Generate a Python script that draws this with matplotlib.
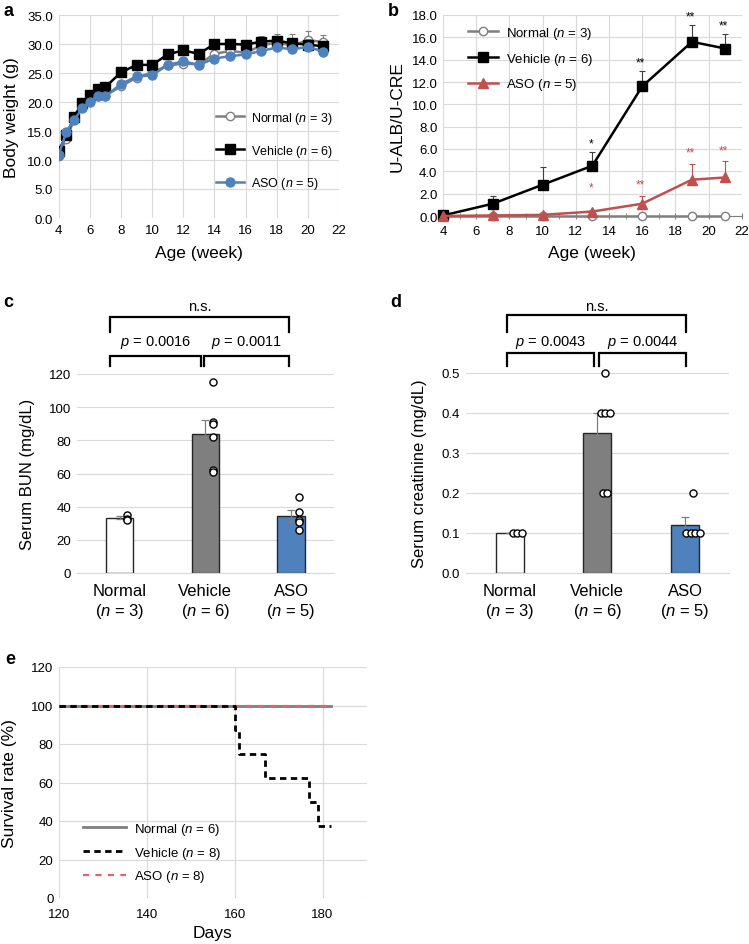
import numpy as np
import matplotlib
matplotlib.use('Agg')
from matplotlib import pyplot as plt
from matplotlib.ticker import FormatStrFormatter, MultipleLocator

plt.rcParams['font.family'] = ['Liberation Sans', 'DejaVu Sans']
plt.rcParams['mathtext.fontset'] = 'custom'
plt.rcParams['mathtext.rm'] = 'Liberation Sans'
plt.rcParams['mathtext.it'] = 'Liberation Sans:italic'

# ---- data ----
# a: body weight
weeks_a = [4, 4.5, 5, 5.5, 6, 6.5, 7, 8, 9, 10, 11, 12, 13, 14, 15, 16, 17, 18, 19, 20, 21]
bw_normal = [10.7, 13.7, 17.0, 19.1, 20.2, 21.1, 21.1, 22.7, 24.2, 25.1, 26.3, 26.6, 26.5,
             28.3, 28.8, 28.5, 29.7, 30.3, 29.7, 30.7, 30.3]
bw_vehicle = [11.6, 14.3, 17.5, 19.8, 21.2, 22.2, 22.6, 25.1, 26.4, 26.4, 28.2, 28.9, 28.3,
              30.0, 30.0, 29.9, 30.4, 30.6, 30.1, 29.9, 29.6]
bw_aso = [10.9, 14.9, 16.9, 18.9, 20.0, 21.1, 21.0, 23.1, 24.4, 24.6, 26.4, 27.0, 26.4,
          27.5, 27.9, 28.2, 28.8, 29.4, 29.1, 29.5, 28.7]
bw_normal_err = [0.3, 0.4, 0.4, 0.5, 0.5, 0.5, 0.5, 0.6, 0.6, 0.6, 0.7, 0.7, 0.7,
                 0.8, 0.8, 0.8, 0.9, 1.0, 1.1, 1.5, 1.3]
bw_vehicle_err = [0.3, 0.4, 0.4, 0.5, 0.5, 0.5, 0.5, 0.6, 0.6, 0.6, 0.6, 0.7, 0.7,
                  0.7, 0.8, 0.8, 1.0, 1.2, 1.7, 0.9, 1.0]
bw_aso_err = [0.2, 0.3, 0.3, 0.3, 0.3, 0.3, 0.3, 0.4, 0.4, 0.4, 0.4, 0.5, 0.5,
              0.5, 0.5, 0.5, 0.6, 0.6, 0.6, 0.6, 0.6]

# b: urinary albumin / creatinine
weeks_b = [4, 7, 10, 13, 16, 19, 21]
alb_normal = [0.0, 0.0, 0.0, 0.0, 0.0, 0.0, 0.0]
alb_vehicle = [0.05, 1.1, 2.8, 4.5, 11.6, 15.6, 15.0]
alb_aso = [0.0, 0.05, 0.1, 0.4, 1.1, 3.25, 3.45]
alb_vehicle_err = [0.0, 0.7, 1.6, 1.25, 1.4, 1.5, 1.3]
alb_aso_err = [0.0, 0.0, 0.05, 0.1, 0.7, 1.4, 1.45]
stars_vehicle = ['', '', '', '*', '**', '**', '**']
stars_aso = ['', '', '', '*', '**', '**', '**']

# c / d: serum markers
groups = ['Normal', 'Vehicle', 'ASO']
group_n = [3, 6, 5]
bun_mean = [33.2, 83.7, 34.4]
bun_err = [0.9, 8.3, 3.4]
bun_points = [[35, 32.5, 32], [115, 91, 90, 82, 62, 61], [46, 37, 32, 31, 26]]
bun_p = ['0.0016', '0.0011']
cre_mean = [0.10, 0.35, 0.12]
cre_err = [0.0, 0.05, 0.02]
cre_points = [[0.1, 0.1, 0.1], [0.5, 0.4, 0.4, 0.4, 0.2, 0.2], [0.2, 0.1, 0.1, 0.1, 0.1]]
cre_p = ['0.0043', '0.0044']

# e: survival
days_flat = [120, 182]
surv_flat = [100, 100]
days_vehicle = [120, 160, 161, 167, 177, 179, 182]
surv_vehicle = [100, 87.5, 75, 62.5, 50, 37.5, 37.5]
surv_n = [6, 8, 8]

GRID = '#d9d9d9'
GRAY = '#7f7f7f'
BLUE = '#4f81bd'
RED = '#c0504d'
TICK_FS = 9.5
LABEL_FS = 12.5

W, H = 749, 945
fig = plt.figure(figsize=(W / 100, H / 100), dpi=100)


def add_axes(left, right, top, bottom):
    return fig.add_axes([left / W, 1 - bottom / H, (right - left) / W, (bottom - top) / H])


def clean(ax):
    for s in ax.spines.values():
        s.set_visible(False)
    ax.tick_params(length=0, labelsize=TICK_FS, pad=4)
    ax.set_axisbelow(True)


def set_labels(ax, xlabel, ylabel, xpos, ypos, fs=LABEL_FS):
    if xlabel:
        ax.set_xlabel(xlabel, fontsize=fs)
        ax.xaxis.set_label_coords(0.5, xpos)
        ax.xaxis.label.set_va('center')
    ax.set_ylabel(ylabel, fontsize=fs)
    ax.yaxis.set_label_coords(ypos, 0.5)
    ax.yaxis.label.set_va('center')


# ---- a ----
ax = add_axes(58.7, 339, 16, 219)
clean(ax)
ax.grid(color=GRID, lw=0.8)
series_a = [
    (bw_normal, bw_normal_err, GRAY, 'o', 'white', 6, 'Normal ($n$ = 3)'),
    (bw_vehicle, bw_vehicle_err, 'black', 's', 'black', 7, 'Vehicle ($n$ = 6)'),
    (bw_aso, bw_aso_err, BLUE, 'o', BLUE, 6.5, 'ASO ($n$ = 5)'),
]
for i, (y, e, col, m, fc, ms, lab) in enumerate(series_a):
    ax.errorbar(weeks_a, y, yerr=[np.zeros(len(e)), e], fmt='none', ecolor=GRAY,
                elinewidth=0.8, capsize=2.5, capthick=0.8, zorder=2 + i)
    ax.plot(weeks_a, y, color=col, lw=1.8, marker=m, ms=ms, mfc=fc, mec=col,
            mew=1, label=lab, zorder=3 + i)
ax.set_xlim(4, 22)
ax.set_ylim(0, 35)
ax.xaxis.set_major_locator(MultipleLocator(2))
ax.yaxis.set_major_locator(MultipleLocator(5))
ax.yaxis.set_major_formatter(FormatStrFormatter('%.1f'))
ax.legend(loc='lower right', bbox_to_anchor=(1.0, 0.1), frameon=False, fontsize=9,
          borderpad=0, labelspacing=1.35, handlelength=2.3, handletextpad=0.5)
set_labels(ax, 'Age (week)', 'Body weight (g)', -0.17, -0.17)

# ---- b ----
ax = add_axes(443, 741.7, 16, 217)
clean(ax)
ax.grid(color=GRID, lw=0.8)
ax.errorbar(weeks_b, alb_vehicle, yerr=[np.zeros(7), alb_vehicle_err], fmt='none',
            ecolor='#404040', elinewidth=0.8, capsize=2.5, capthick=0.8, zorder=3)
ax.errorbar(weeks_b, alb_aso, yerr=[np.zeros(7), alb_aso_err], fmt='none',
            ecolor=RED, elinewidth=0.8, capsize=2.5, capthick=0.8, zorder=3)
ax.plot(weeks_b, alb_normal, color=GRAY, lw=1.8, marker='o', ms=6, mfc='white',
        mec=GRAY, label='Normal ($n$ = 3)', zorder=4, clip_on=False)
ax.plot(weeks_b, alb_vehicle, color='black', lw=1.8, marker='s', ms=6.5,
        label='Vehicle ($n$ = 6)', zorder=5, clip_on=False)
ax.plot(weeks_b, alb_aso, color=RED, lw=1.8, marker='^', ms=7,
        label='ASO ($n$ = 5)', zorder=6, clip_on=False)
for x, y, e, s in zip(weeks_b, alb_vehicle, alb_vehicle_err, stars_vehicle):
    if s:
        ax.text(x - 0.1, y + e + 0.75, s, ha='center', va='center', fontsize=8.5)
for x, y, e, s in zip(weeks_b, alb_aso, alb_aso_err, stars_aso):
    if s:
        ax.text(x - 0.1, max(y + e + 1.0, 2.6), s, ha='center',
                va='center', fontsize=8.5, color=RED)
ax.set_xlim(4, 22)
ax.set_ylim(0, 18)
ax.xaxis.set_major_locator(MultipleLocator(2))
ax.xaxis.set_minor_locator(MultipleLocator(1))
ax.yaxis.set_major_locator(MultipleLocator(2))
ax.yaxis.set_major_formatter(FormatStrFormatter('%.1f'))
ax.spines['bottom'].set_visible(True)
ax.spines['bottom'].set_color(GRAY)
ax.tick_params(axis='x', which='both', direction='inout', length=5, color=GRAY)
ax.legend(loc='upper left', bbox_to_anchor=(0.06, 0.985), frameon=False, fontsize=9.5,
          borderpad=0, labelspacing=0.75, handlelength=2.3, handletextpad=0.6)
set_labels(ax, 'Age (week)', 'U-ALB/U-CRE', -0.18, -0.155)


# ---- c / d ----
def point_offsets(vals, base=0.09, step=0.05):
    out = []
    for i, v in enumerate(vals):
        same = [j for j, w in enumerate(vals) if w == v]
        k = same.index(i)
        out.append(base + (k - (len(same) - 1) / 2) * step)
    return out


def bar_panel(ax, means, errs, points, pvals, ymax, ystep, fmt, br):
    clean(ax)
    ax.yaxis.grid(True, color=GRID, lw=0.8)
    x = np.arange(len(groups))
    ax.bar(x, means, width=0.32, color=['white', '#7f7f7f', BLUE],
           edgecolor='#262626', lw=1, zorder=2)
    ax.errorbar(x, means, yerr=errs, fmt='none', ecolor=GRAY, elinewidth=0.9,
                capsize=3, capthick=0.9, zorder=3)
    for xi, pts in zip(x, points):
        ax.scatter(xi + np.array(point_offsets(pts)), pts, s=26, facecolor='white',
                   edgecolor='black', lw=1, zorder=4, clip_on=False)
    ax.set_xlim(-0.5, 2.5)
    ax.set_ylim(0, ymax)
    ax.yaxis.set_major_locator(MultipleLocator(ystep))
    ax.yaxis.set_major_formatter(FormatStrFormatter(fmt))
    ax.spines['bottom'].set_visible(True)
    ax.spines['bottom'].set_color(GRID)
    ax.set_xticks(x)
    ax.set_xticklabels([f'{g}\n($n$ = {n})' for g, n in zip(groups, group_n)],
                       fontsize=12, linespacing=1.25)
    ax.tick_params(axis='x', pad=7)
    # significance brackets in data units
    (l1, l2, r1, r2, t1, t2), (lo_top, lo_end, hi_top, hi_end, p_y, ns_y) = br
    kw = dict(color='black', lw=1.6, clip_on=False, solid_joinstyle='miter')
    ax.plot([l1, l1, l2, l2], [lo_end, lo_top, lo_top, lo_end], **kw)
    ax.plot([r1, r1, r2, r2], [lo_end, lo_top, lo_top, lo_end], **kw)
    ax.plot([t1, t1, t2, t2], [hi_end, hi_top, hi_top, hi_end], **kw)
    ax.text((l1 + l2) / 2, p_y, f'$p$ = {pvals[0]}', ha='center', va='center', fontsize=10.5)
    ax.text((r1 + r2) / 2, p_y, f'$p$ = {pvals[1]}', ha='center', va='center', fontsize=10.5)
    ax.text((t1 + t2) / 2, ns_y, 'n.s.', ha='center', va='center', fontsize=10.5)


ax = add_axes(76.7, 334, 375, 574)
bar_panel(ax, bun_mean, bun_err, bun_points, bun_p, 120, 20, '%d',
          ((-0.11, 0.95, 0.99, 1.97, -0.11, 1.97),
           (130.9, 124.8, 154.4, 145.3, 139.3, 161.0)))
set_labels(ax, None, 'Serum BUN (mg/dL)', None, -0.19, fs=12)

ax = add_axes(465.7, 729, 374, 574)
bar_panel(ax, cre_mean, cre_err, cre_points, cre_p, 0.5, 0.1, '%.1f',
          ((-0.03, 0.965, 1.02, 2.01, -0.03, 2.01),
           (0.55, 0.518, 0.645, 0.603, 0.578, 0.668)))
set_labels(ax, None, 'Serum creatinine (mg/dL)', None, -0.175, fs=12)

# ---- e ----
ax = add_axes(59, 366.5, 668, 899)
clean(ax)
ax.grid(color=GRID, lw=0.8)
ax.plot(days_flat, surv_flat, color=GRAY, lw=2, label=f'Normal ($n$ = {surv_n[0]})', zorder=3)
ax.step(days_vehicle, surv_vehicle, where='post', color='black', lw=2, dashes=(2.3, 1.6),
        label=f'Vehicle ($n$ = {surv_n[1]})', zorder=5)
ax.plot(days_flat, surv_flat, color='#e06666', lw=1.6, dashes=(2.8, 2.8),
        label=f'ASO ($n$ = {surv_n[2]})', zorder=4)
ax.set_xlim(120, 190)
ax.set_ylim(0, 120)
ax.set_xticks([120, 140, 160, 180])
ax.yaxis.set_major_locator(MultipleLocator(20))
ax.tick_params(axis='x', pad=7)
ax.legend(loc='lower left', bbox_to_anchor=(0.055, 0.03), frameon=False, fontsize=9.5,
          borderpad=0, labelspacing=0.6, handlelength=3.3, handletextpad=0.6)
set_labels(ax, 'Days', 'Survival rate (%)', -0.15, -0.16)

# panel letters
for letter, (px, py) in zip('abcde', [(3, 12), (388, 12), (3, 303), (390, 303), (5, 660)]):
    fig.text(px / W, 1 - py / H, letter, fontsize=13, fontweight='bold', va='center')

fig.savefig('out.png', dpi=100)
